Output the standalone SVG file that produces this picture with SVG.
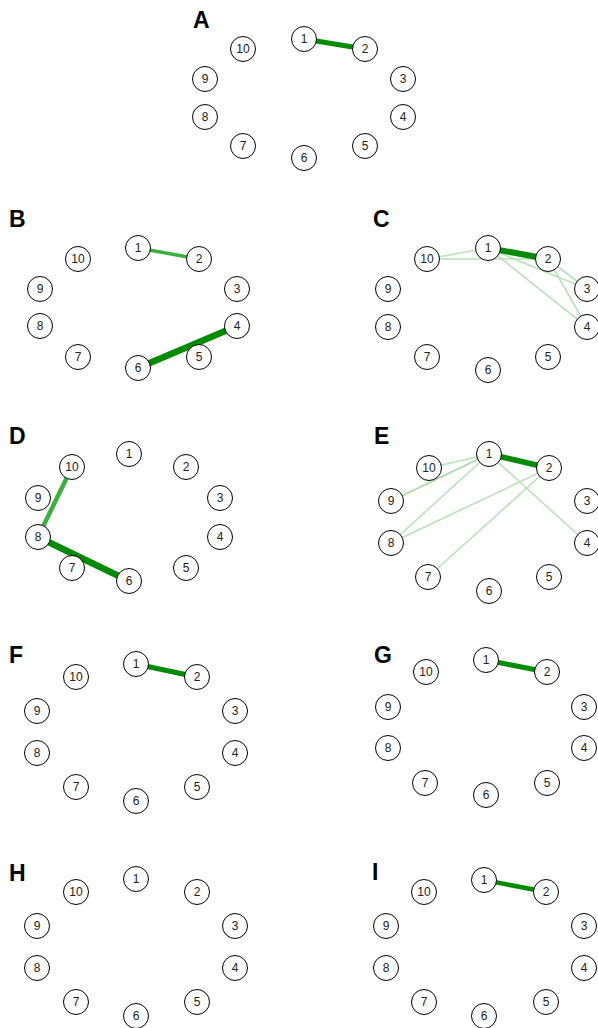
<svg xmlns="http://www.w3.org/2000/svg" width="598" height="1028" viewBox="0 0 598 1028">
<style>
.bg{fill:#ffffff}
.n circle{fill:#ffffff;stroke:#000000;stroke-width:1}
.n text{font-family:"Liberation Sans",Arial,sans-serif;font-size:12px;fill:#222222;text-anchor:middle}
.lbl{font-family:"Liberation Sans",Arial,sans-serif;font-size:23px;font-weight:bold;fill:#000000}
.e{fill:none;stroke-linecap:butt}
.dk{stroke:#008b00}
.md{stroke:#3cb03c}
.lt{stroke:#b9e2b9;stroke-width:1.6}
</style>
<rect class="bg" x="0" y="0" width="598" height="1028"/>

<!-- Panel A -->
<g id="panelA">
<text class="lbl" x="193" y="28">A</text>
<g id="A-edges"><line class="e dk" x1="304" y1="39" x2="365" y2="49" stroke-width="5"/></g>
<g id="A-n1" class="n"><circle cx="304" cy="39" r="12.5"/><text x="304" y="43">1</text></g>
<g id="A-n2" class="n"><circle cx="365" cy="49" r="12.5"/><text x="365" y="53">2</text></g>
<g id="A-n3" class="n"><circle cx="403" cy="79" r="12.5"/><text x="403" y="83">3</text></g>
<g id="A-n4" class="n"><circle cx="403" cy="117" r="12.5"/><text x="403" y="121">4</text></g>
<g id="A-n5" class="n"><circle cx="365" cy="146" r="12.5"/><text x="365" y="150">5</text></g>
<g id="A-n6" class="n"><circle cx="304" cy="158" r="12.5"/><text x="304" y="162">6</text></g>
<g id="A-n7" class="n"><circle cx="243" cy="146" r="12.5"/><text x="243" y="150">7</text></g>
<g id="A-n8" class="n"><circle cx="205" cy="117" r="12.5"/><text x="205" y="121">8</text></g>
<g id="A-n9" class="n"><circle cx="205" cy="79" r="12.5"/><text x="205" y="83">9</text></g>
<g id="A-n10" class="n"><circle cx="243" cy="49" r="12.5"/><text x="243" y="53">10</text></g>
</g>

<!-- Panel B -->
<g id="panelB">
<text class="lbl" x="9" y="227">B</text>
<g id="B-edges">
<line class="e md" x1="138" y1="248" x2="199" y2="259" stroke-width="3.5"/>
<line class="e dk" x1="237" y1="326" x2="138" y2="368" stroke-width="6.5"/>
</g>
<g id="B-n1" class="n"><circle cx="138" cy="248" r="12.5"/><text x="138" y="252">1</text></g>
<g id="B-n2" class="n"><circle cx="199" cy="259" r="12.5"/><text x="199" y="263">2</text></g>
<g id="B-n3" class="n"><circle cx="237" cy="289" r="12.5"/><text x="237" y="293">3</text></g>
<g id="B-n4" class="n"><circle cx="237" cy="326" r="12.5"/><text x="237" y="330">4</text></g>
<g id="B-n5" class="n"><circle cx="199" cy="357" r="12.5"/><text x="199" y="361">5</text></g>
<g id="B-n6" class="n"><circle cx="138" cy="368" r="12.5"/><text x="138" y="372">6</text></g>
<g id="B-n7" class="n"><circle cx="78" cy="357" r="12.5"/><text x="78" y="361">7</text></g>
<g id="B-n8" class="n"><circle cx="40" cy="326" r="12.5"/><text x="40" y="330">8</text></g>
<g id="B-n9" class="n"><circle cx="40" cy="289" r="12.5"/><text x="40" y="293">9</text></g>
<g id="B-n10" class="n"><circle cx="78" cy="259" r="12.5"/><text x="78" y="263">10</text></g>
</g>

<!-- Panel C -->
<g id="panelC">
<text class="lbl" x="373" y="227">C</text>
<g id="C-edges">
<line class="e lt" x1="427" y1="259" x2="488" y2="248"/>
<line class="e lt" x1="427" y1="259" x2="548" y2="259"/>
<line class="e lt" x1="488" y1="248" x2="587" y2="289"/>
<line class="e lt" x1="488" y1="248" x2="587" y2="327"/>
<line class="e lt" x1="548" y1="259" x2="587" y2="289"/>
<line class="e lt" x1="548" y1="259" x2="587" y2="327"/>
<line class="e dk" x1="488" y1="248" x2="548" y2="259" stroke-width="6"/>
</g>
<g id="C-n1" class="n"><circle cx="488" cy="248" r="12.5"/><text x="488" y="252">1</text></g>
<g id="C-n2" class="n"><circle cx="548" cy="259" r="12.5"/><text x="548" y="263">2</text></g>
<g id="C-n3" class="n"><circle cx="587" cy="289" r="12.5"/><text x="587" y="293">3</text></g>
<g id="C-n4" class="n"><circle cx="587" cy="327" r="12.5"/><text x="587" y="331">4</text></g>
<g id="C-n5" class="n"><circle cx="548" cy="357" r="12.5"/><text x="548" y="361">5</text></g>
<g id="C-n6" class="n"><circle cx="488" cy="370" r="12.5"/><text x="488" y="374">6</text></g>
<g id="C-n7" class="n"><circle cx="427" cy="357" r="12.5"/><text x="427" y="361">7</text></g>
<g id="C-n8" class="n"><circle cx="388" cy="327" r="12.5"/><text x="388" y="331">8</text></g>
<g id="C-n9" class="n"><circle cx="388" cy="289" r="12.5"/><text x="388" y="293">9</text></g>
<g id="C-n10" class="n"><circle cx="427" cy="259" r="12.5"/><text x="427" y="263">10</text></g>
</g>

<!-- Panel D -->
<g id="panelD">
<text class="lbl" x="9" y="444">D</text>
<g id="D-edges">
<line class="e md" x1="72" y1="467" x2="38" y2="537" stroke-width="4.5"/>
<line class="e dk" x1="38" y1="537" x2="129" y2="581" stroke-width="6.5"/>
</g>
<g id="D-n1" class="n"><circle cx="129" cy="454" r="12.5"/><text x="129" y="458">1</text></g>
<g id="D-n2" class="n"><circle cx="186" cy="467" r="12.5"/><text x="186" y="471">2</text></g>
<g id="D-n3" class="n"><circle cx="220" cy="498" r="12.5"/><text x="220" y="502">3</text></g>
<g id="D-n4" class="n"><circle cx="220" cy="537" r="12.5"/><text x="220" y="541">4</text></g>
<g id="D-n5" class="n"><circle cx="186" cy="568" r="12.5"/><text x="186" y="572">5</text></g>
<g id="D-n6" class="n"><circle cx="129" cy="581" r="12.5"/><text x="129" y="585">6</text></g>
<g id="D-n7" class="n"><circle cx="72" cy="568" r="12.5"/><text x="72" y="572">7</text></g>
<g id="D-n8" class="n"><circle cx="38" cy="537" r="12.5"/><text x="38" y="541">8</text></g>
<g id="D-n9" class="n"><circle cx="38" cy="498" r="12.5"/><text x="38" y="502">9</text></g>
<g id="D-n10" class="n"><circle cx="72" cy="467" r="12.5"/><text x="72" y="471">10</text></g>
</g>

<!-- Panel E -->
<g id="panelE">
<text class="lbl" x="374" y="444">E</text>
<g id="E-edges">
<line class="e lt" x1="429" y1="468" x2="489" y2="454"/>
<line class="e lt" x1="391" y1="501" x2="489" y2="454" stroke-width="2.2" style="stroke:#a6d9a6"/>
<line class="e lt" x1="391" y1="543" x2="489" y2="454"/>
<line class="e lt" x1="391" y1="543" x2="549" y2="468"/>
<line class="e lt" x1="428" y1="577" x2="549" y2="468"/>
<line class="e lt" x1="489" y1="454" x2="587" y2="543"/>
<line class="e dk" x1="489" y1="454" x2="549" y2="468" stroke-width="5.5"/>
</g>
<g id="E-n1" class="n"><circle cx="489" cy="454" r="12.5"/><text x="489" y="458">1</text></g>
<g id="E-n2" class="n"><circle cx="549" cy="468" r="12.5"/><text x="549" y="472">2</text></g>
<g id="E-n3" class="n"><circle cx="587" cy="501" r="12.5"/><text x="587" y="505">3</text></g>
<g id="E-n4" class="n"><circle cx="587" cy="543" r="12.5"/><text x="587" y="547">4</text></g>
<g id="E-n5" class="n"><circle cx="549" cy="577" r="12.5"/><text x="549" y="581">5</text></g>
<g id="E-n6" class="n"><circle cx="489" cy="591" r="12.5"/><text x="489" y="595">6</text></g>
<g id="E-n7" class="n"><circle cx="428" cy="577" r="12.5"/><text x="428" y="581">7</text></g>
<g id="E-n8" class="n"><circle cx="391" cy="543" r="12.5"/><text x="391" y="547">8</text></g>
<g id="E-n9" class="n"><circle cx="391" cy="501" r="12.5"/><text x="391" y="505">9</text></g>
<g id="E-n10" class="n"><circle cx="429" cy="468" r="12.5"/><text x="429" y="472">10</text></g>
</g>

<!-- Panel F -->
<g id="panelF">
<text class="lbl" x="9" y="663">F</text>
<g id="F-edges"><line class="e dk" x1="136" y1="664" x2="197" y2="677" stroke-width="5"/></g>
<g id="F-n1" class="n"><circle cx="136" cy="664" r="12.5"/><text x="136" y="668">1</text></g>
<g id="F-n2" class="n"><circle cx="197" cy="677" r="12.5"/><text x="197" y="681">2</text></g>
<g id="F-n3" class="n"><circle cx="235" cy="711" r="12.5"/><text x="235" y="715">3</text></g>
<g id="F-n4" class="n"><circle cx="235" cy="753" r="12.5"/><text x="235" y="757">4</text></g>
<g id="F-n5" class="n"><circle cx="197" cy="787" r="12.5"/><text x="197" y="791">5</text></g>
<g id="F-n6" class="n"><circle cx="136" cy="801" r="12.5"/><text x="136" y="805">6</text></g>
<g id="F-n7" class="n"><circle cx="76" cy="787" r="12.5"/><text x="76" y="791">7</text></g>
<g id="F-n8" class="n"><circle cx="37" cy="753" r="12.5"/><text x="37" y="757">8</text></g>
<g id="F-n9" class="n"><circle cx="37" cy="711" r="12.5"/><text x="37" y="715">9</text></g>
<g id="F-n10" class="n"><circle cx="76" cy="677" r="12.5"/><text x="76" y="681">10</text></g>
</g>

<!-- Panel G -->
<g id="panelG">
<text class="lbl" x="374" y="663">G</text>
<g id="G-edges"><line class="e dk" x1="486" y1="660" x2="547" y2="672" stroke-width="5"/></g>
<g id="G-n1" class="n"><circle cx="486" cy="660" r="12.5"/><text x="486" y="664">1</text></g>
<g id="G-n2" class="n"><circle cx="547" cy="672" r="12.5"/><text x="547" y="676">2</text></g>
<g id="G-n3" class="n"><circle cx="584" cy="707" r="12.5"/><text x="584" y="711">3</text></g>
<g id="G-n4" class="n"><circle cx="584" cy="748" r="12.5"/><text x="584" y="752">4</text></g>
<g id="G-n5" class="n"><circle cx="547" cy="783" r="12.5"/><text x="547" y="787">5</text></g>
<g id="G-n6" class="n"><circle cx="486" cy="795" r="12.5"/><text x="486" y="799">6</text></g>
<g id="G-n7" class="n"><circle cx="425" cy="783" r="12.5"/><text x="425" y="787">7</text></g>
<g id="G-n8" class="n"><circle cx="388" cy="748" r="12.5"/><text x="388" y="752">8</text></g>
<g id="G-n9" class="n"><circle cx="388" cy="707" r="12.5"/><text x="388" y="711">9</text></g>
<g id="G-n10" class="n"><circle cx="426" cy="672" r="12.5"/><text x="426" y="676">10</text></g>
</g>

<!-- Panel H -->
<g id="panelH">
<text class="lbl" x="9" y="881">H</text>
<g id="H-edges"></g>
<g id="H-n1" class="n"><circle cx="136" cy="879" r="12.5"/><text x="136" y="883">1</text></g>
<g id="H-n2" class="n"><circle cx="197" cy="892" r="12.5"/><text x="197" y="896">2</text></g>
<g id="H-n3" class="n"><circle cx="235" cy="926" r="12.5"/><text x="235" y="930">3</text></g>
<g id="H-n4" class="n"><circle cx="235" cy="968" r="12.5"/><text x="235" y="972">4</text></g>
<g id="H-n5" class="n"><circle cx="197" cy="1002" r="12.5"/><text x="197" y="1006">5</text></g>
<g id="H-n6" class="n"><circle cx="136" cy="1016" r="12.5"/><text x="136" y="1020">6</text></g>
<g id="H-n7" class="n"><circle cx="76" cy="1002" r="12.5"/><text x="76" y="1006">7</text></g>
<g id="H-n8" class="n"><circle cx="37" cy="968" r="12.5"/><text x="37" y="972">8</text></g>
<g id="H-n9" class="n"><circle cx="37" cy="926" r="12.5"/><text x="37" y="930">9</text></g>
<g id="H-n10" class="n"><circle cx="76" cy="892" r="12.5"/><text x="76" y="896">10</text></g>
</g>

<!-- Panel I -->
<g id="panelI">
<text class="lbl" x="372" y="880">I</text>
<g id="I-edges"><line class="e dk" x1="484" y1="880" x2="546" y2="892" stroke-width="4.5"/></g>
<g id="I-n1" class="n"><circle cx="484" cy="880" r="12.5"/><text x="484" y="884">1</text></g>
<g id="I-n2" class="n"><circle cx="546" cy="892" r="12.5"/><text x="546" y="896">2</text></g>
<g id="I-n3" class="n"><circle cx="584" cy="926" r="12.5"/><text x="584" y="930">3</text></g>
<g id="I-n4" class="n"><circle cx="584" cy="968" r="12.5"/><text x="584" y="972">4</text></g>
<g id="I-n5" class="n"><circle cx="546" cy="1002" r="12.5"/><text x="546" y="1006">5</text></g>
<g id="I-n6" class="n"><circle cx="484" cy="1016" r="12.5"/><text x="484" y="1020">6</text></g>
<g id="I-n7" class="n"><circle cx="424" cy="1002" r="12.5"/><text x="424" y="1006">7</text></g>
<g id="I-n8" class="n"><circle cx="386" cy="968" r="12.5"/><text x="386" y="972">8</text></g>
<g id="I-n9" class="n"><circle cx="386" cy="926" r="12.5"/><text x="386" y="930">9</text></g>
<g id="I-n10" class="n"><circle cx="424" cy="892" r="12.5"/><text x="424" y="896">10</text></g>
</g>
</svg>
